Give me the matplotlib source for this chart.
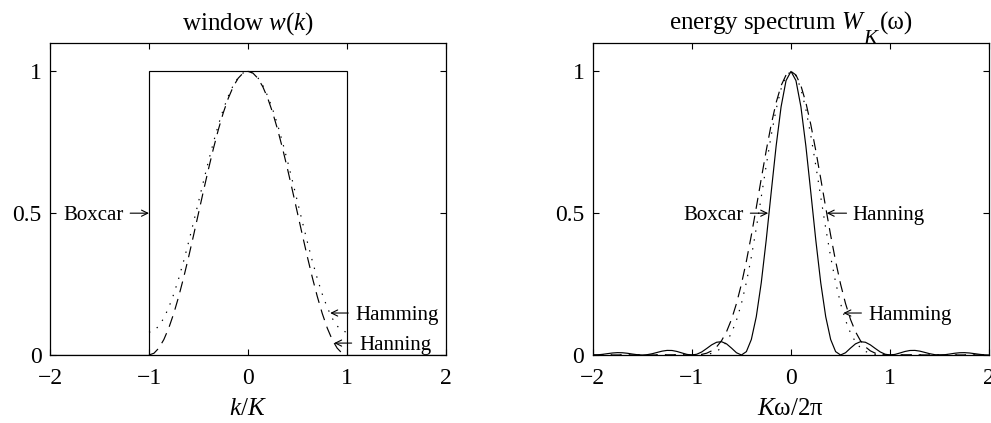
import numpy as np
import matplotlib
matplotlib.use("Agg")
import matplotlib.pyplot as plt
from matplotlib.transforms import offset_copy

plt.rcParams['font.family'] = ['Liberation Serif', 'DejaVu Serif']
plt.rcParams['mathtext.fontset'] = 'custom'
plt.rcParams['mathtext.rm'] = 'Liberation Serif'
plt.rcParams['mathtext.it'] = 'Liberation Serif:italic'
plt.rcParams['lines.scale_dashes'] = False

# ---------------- data: window w(k) ----------------
boxcar_k = [-2, -1, -1, 1, 1, 2]
boxcar_w = [0, 0, 1, 1, 0, 0]

win_k = [-1.00, -0.95, -0.90, -0.85, -0.80, -0.75, -0.70, -0.65, -0.60, -0.55,
         -0.50, -0.45, -0.40, -0.35, -0.30, -0.25, -0.20, -0.15, -0.10, -0.05,
         0.00, 0.05, 0.10, 0.15, 0.20, 0.25, 0.30, 0.35, 0.40, 0.45,
         0.50, 0.55, 0.60, 0.65, 0.70, 0.75, 0.80, 0.85, 0.90, 0.95, 1.00]
hanning_w = [0.0, 0.0062, 0.0245, 0.0545, 0.0955, 0.1464, 0.2061, 0.2730, 0.3455, 0.4218,
             0.5, 0.5782, 0.6545, 0.7270, 0.7939, 0.8536, 0.9045, 0.9455, 0.9755, 0.9938,
             1.0, 0.9938, 0.9755, 0.9455, 0.9045, 0.8536, 0.7939, 0.7270, 0.6545, 0.5782,
             0.5, 0.4218, 0.3455, 0.2730, 0.2061, 0.1464, 0.0955, 0.0545, 0.0245, 0.0062, 0.0]
hamming_w = [0.08, 0.0857, 0.1025, 0.1301, 0.1679, 0.2147, 0.2696, 0.3312, 0.3979, 0.4680,
             0.54, 0.6120, 0.6822, 0.7488, 0.8104, 0.8653, 0.9122, 0.9499, 0.9775, 0.9943,
             1.0, 0.9943, 0.9775, 0.9499, 0.9122, 0.8653, 0.8104, 0.7488, 0.6822, 0.6120,
             0.54, 0.4680, 0.3979, 0.3312, 0.2696, 0.2147, 0.1679, 0.1301, 0.1025, 0.0857, 0.08]

# ---------------- data: energy spectrum ----------------
freq = [-2.00, -1.95, -1.90, -1.85, -1.80, -1.75, -1.70, -1.65, -1.60, -1.55,
        -1.50, -1.45, -1.40, -1.35, -1.30, -1.25, -1.20, -1.15, -1.10, -1.05,
        -1.00, -0.95, -0.90, -0.85, -0.80, -0.75, -0.70, -0.65, -0.60, -0.55,
        -0.50, -0.45, -0.40, -0.35, -0.30, -0.25, -0.20, -0.15, -0.10, -0.05,
        0.00, 0.05, 0.10, 0.15, 0.20, 0.25, 0.30, 0.35, 0.40, 0.45,
        0.50, 0.55, 0.60, 0.65, 0.70, 0.75, 0.80, 0.85, 0.90, 0.95,
        1.00, 1.05, 1.10, 1.15, 1.20, 1.25, 1.30, 1.35, 1.40, 1.45,
        1.50, 1.55, 1.60, 1.65, 1.70, 1.75, 1.80, 1.85, 1.90, 1.95, 2.00]
boxcar_S = [0.0, 0.0006, 0.0024, 0.0048, 0.0071, 0.0083, 0.0079, 0.0061, 0.0034, 0.0010,
            0.0, 0.0012, 0.0045, 0.0091, 0.0136, 0.0162, 0.0159, 0.0125, 0.0072, 0.0022,
            0.0, 0.0027, 0.0108, 0.0230, 0.0358, 0.0450, 0.0468, 0.0392, 0.0243, 0.0080,
            0.0, 0.0119, 0.0547, 0.1353, 0.2546, 0.4053, 0.5728, 0.7368, 0.8751, 0.9675,
            1.0,
            0.9675, 0.8751, 0.7368, 0.5728, 0.4053, 0.2546, 0.1353, 0.0547, 0.0119, 0.0,
            0.0080, 0.0243, 0.0392, 0.0468, 0.0450, 0.0358, 0.0230, 0.0108, 0.0027, 0.0,
            0.0022, 0.0072, 0.0125, 0.0159, 0.0162, 0.0136, 0.0091, 0.0045, 0.0012, 0.0,
            0.0010, 0.0034, 0.0061, 0.0079, 0.0083, 0.0071, 0.0048, 0.0024, 0.0006, 0.0]
hanning_S = [0.0, 0.0, 0.0, 0.0, 0.0, 0.0001, 0.0001, 0.0001, 0.0001, 0.0,
             0.0, 0.0, 0.0001, 0.0002, 0.0004, 0.0006, 0.0007, 0.0007, 0.0005, 0.0002,
             0.0, 0.0004, 0.0022, 0.0064, 0.0147, 0.0288, 0.0507, 0.0824, 0.1256, 0.1814,
             0.25, 0.3308, 0.4221, 0.5203, 0.6215, 0.7205, 0.8118, 0.8898, 0.9496, 0.9872,
             1.0,
             0.9872, 0.9496, 0.8898, 0.8118, 0.7205, 0.6215, 0.5203, 0.4221, 0.3308, 0.25,
             0.1814, 0.1256, 0.0824, 0.0507, 0.0288, 0.0147, 0.0064, 0.0022, 0.0004, 0.0,
             0.0002, 0.0005, 0.0007, 0.0007, 0.0006, 0.0004, 0.0002, 0.0001, 0.0, 0.0,
             0.0001, 0.0001, 0.0001, 0.0001, 0.0001, 0.0, 0.0, 0.0, 0.0, 0.0]
hamming_S = [0.0, 0.0, 0.0, 0.0, 0.0, 0.0, 0.0, 0.0, 0.0, 0.0,
             0.0, 0.0, 0.0, 0.0, 0.0, 0.0, 0.0, 0.0, 0.0, 0.0,
             0.0, 0.0001, 0.0006, 0.0021, 0.0057, 0.0128, 0.0256, 0.0463, 0.0777, 0.1222,
             0.1814, 0.2561, 0.3458, 0.4475, 0.5570, 0.6681, 0.7738, 0.8662, 0.9384, 0.9843,
             1.0,
             0.9843, 0.9384, 0.8662, 0.7738, 0.6681, 0.5570, 0.4475, 0.3458, 0.2561, 0.1814,
             0.1222, 0.0777, 0.0463, 0.0256, 0.0128, 0.0057, 0.0021, 0.0006, 0.0001, 0.0,
             0.0, 0.0, 0.0, 0.0, 0.0, 0.0, 0.0, 0.0, 0.0, 0.0,
             0.0, 0.0, 0.0, 0.0, 0.0, 0.0, 0.0, 0.0, 0.0, 0.0]

xticks = [-2, -1, 0, 1, 2]
yticks = [0, 0.5, 1]
ytick_labels = ['0', '0.5', '1']

# ---------------- figure ----------------
fig = plt.figure(figsize=(9.91, 4.23), dpi=100)
ax1 = fig.add_axes([50 / 991, 68 / 423, 396 / 991, 312 / 423])
ax2 = fig.add_axes([592.7 / 991, 68 / 423, 396.6 / 991, 312 / 423])

LW = 0.85
dash_style = (0, (8, 5))
dot_style = (0, (1, 5.5))

ax1.plot(boxcar_k, boxcar_w, color='black', lw=LW, solid_joinstyle='miter')
ax1.plot(win_k, hanning_w, color='black', lw=LW, linestyle=dash_style)
ax1.plot(win_k, hamming_w, color='black', lw=LW, linestyle=dot_style)

ax2.plot(freq, boxcar_S, color='black', lw=LW)
ax2.plot(freq, hanning_S, color='black', lw=LW, linestyle=dash_style)
ax2.plot(freq, hamming_S, color='black', lw=LW, linestyle=dot_style)

TICK_FS = 17
for ax in (ax1, ax2):
    ax.set_xlim(-2, 2)
    ax.set_ylim(0, 1.1)
    ax.set_xticks(xticks)
    ax.set_yticks(yticks)
    ax.set_yticklabels(ytick_labels)
    ax.tick_params(direction='in', length=4, width=0.8, top=True, right=True,
                   labelsize=TICK_FS)
    ax.tick_params(axis='x', pad=9)
    ax.tick_params(axis='y', pad=6)
    for sp in ax.spines.values():
        sp.set_linewidth(0.9)
        sp.set_color('black')

ax1.set_title(r'window $w$($k$)', fontsize=18, pad=10)
ax1.set_xlabel(r'$k/K$', fontsize=18, labelpad=6.5)
ax2.set_xlabel(r'$K$ω/2π', fontsize=18, labelpad=6.5)

# title of right panel with a large, low subscript K (built from pieces)
renderer = fig.canvas.get_renderer()
base_y = 1.0
tr0 = offset_copy(ax2.transAxes, fig=fig, x=0, y=10, units='points')
p1 = ax2.text(0, base_y, r'energy spectrum $W$', transform=tr0, fontsize=18,
              ha='left', va='baseline')
p2 = ax2.text(0, base_y, r'$K$', transform=tr0, fontsize=15,
              ha='left', va='baseline')
p3 = ax2.text(0, base_y, '(ω)', transform=tr0, fontsize=18,
              ha='left', va='baseline')
w1 = p1.get_window_extent(renderer).width
w2 = p2.get_window_extent(renderer).width
w3 = p3.get_window_extent(renderer).width
ax_w = ax2.get_window_extent(renderer).width
px2pt = 72.0 / fig.dpi
total = w1 - 3 + w2 + w3
start = (ax_w - total) / 2.0
p1.set_transform(offset_copy(ax2.transAxes, fig=fig, x=start * px2pt, y=10, units='points'))
p2.set_transform(offset_copy(ax2.transAxes, fig=fig, x=(start + w1 - 3) * px2pt,
                             y=-0.5, units='points'))
p3.set_transform(offset_copy(ax2.transAxes, fig=fig, x=(start + w1 - 3 + w2) * px2pt,
                             y=10, units='points'))

ANN_FS = 15
TXT_DROP = -4.7  # points: baseline below arrow level


def label(ax, txt, tip, tail, text_x, y, ha):
    ax.annotate('', xy=(tip, y), xytext=(tail, y),
                arrowprops=dict(arrowstyle='->,head_length=0.45,head_width=0.22',
                                lw=0.8, color='black', shrinkA=0, shrinkB=0,
                                mutation_scale=10))
    ax.annotate(txt, xy=(text_x, y), xytext=(0, TXT_DROP), textcoords='offset points',
                ha=ha, va='baseline', fontsize=ANN_FS)


label(ax1, 'Boxcar', -1.0, -1.19, -1.26, 0.5, 'right')
label(ax1, 'Hamming', 0.83, 1.013, 1.08, 0.148, 'left')
label(ax1, 'Hanning', 0.87, 1.047, 1.12, 0.042, 'left')

label(ax2, 'Boxcar', -0.23, -0.41, -0.48, 0.5, 'right')
label(ax2, 'Hanning', 0.36, 0.56, 0.62, 0.5, 'left')
label(ax2, 'Hamming', 0.528, 0.71, 0.78, 0.148, 'left')

fig.savefig('out.png', dpi=100)
